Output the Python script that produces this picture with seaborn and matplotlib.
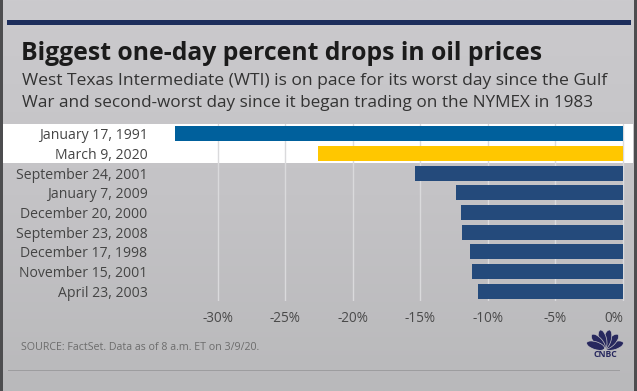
import matplotlib
matplotlib.use("Agg")
import matplotlib.pyplot as plt
import seaborn as sns
import pandas as pd
import numpy as np
from matplotlib.transforms import blended_transform_factory
from matplotlib.patches import Rectangle, Ellipse
from matplotlib.colors import LinearSegmentedColormap

# ---------------- data ----------------
dates = ["January 17, 1991", "March 9, 2020", "September 24, 2001",
         "January 7, 2009", "December 20, 2000", "September 23, 2008",
         "December 17, 1998", "November 15, 2001", "April 23, 2003"]
drops = [-33.2, -22.6, -15.4, -12.4, -12.0, -11.9, -11.3, -11.2, -10.7]
bar_colors = ["#00609c", "#ffc700"] + ["#244a7b"] * 7
xticks = [-30, -25, -20, -15, -10, -5, 0]
xtick_labels = ["-30%", "-25%", "-20%", "-15%", "-10%", "-5%", "0%"]

title = "Biggest one-day percent drops in oil prices"
subtitle = ("West Texas Intermediate (WTI) is on pace for its worst day since the Gulf\n"
            "War and second-worst day since it began trading on the NYMEX in 1983")
source = "SOURCE: FactSet. Data as of 8 a.m. ET on 3/9/20."

# ---------------- style ----------------
sns.set_theme(style="white")
plt.rcParams['font.family'] = ['Open Sans', 'DejaVu Sans']

W, H = 637, 391
fig = plt.figure(figsize=(W / 100, H / 100), dpi=100)

# background gradient
bgax = fig.add_axes([0, 0, 1, 1], zorder=-10)
grad = np.linspace(0, 1, 256).reshape(-1, 1)
cmap = LinearSegmentedColormap.from_list("bg", ["#cbcacd", "#c4c3c6", "#b9b9bb"])
bgax.imshow(grad, aspect="auto", cmap=cmap, extent=[0, 1, 0, 1], origin="upper")
bgax.set_axis_off()

def fx(px):
    return px / W

def fy(py):
    return 1 - py / H

# frame borders
fig.add_artist(Rectangle((0, 0), fx(2.5), 1, transform=fig.transFigure,
                         color="#4d4d4f", lw=0))
fig.add_artist(Rectangle((fx(634), 0), fx(3), 1, transform=fig.transFigure,
                         color="#4d4d4f", lw=0))
# navy top rule
fig.add_artist(Rectangle((fx(7), fy(25)), fx(624), 5 / H, transform=fig.transFigure,
                         color="#1d2e5c", lw=0))
# bottom rule
fig.add_artist(Rectangle((fx(8), fy(370.5)), fx(612), 1 / H, transform=fig.transFigure,
                         color="#9d9d9f", lw=0))

# ---------------- axes ----------------
ax = fig.add_axes([fx(153), fy(301), fx(625 - 153), (301 - 124) / H])
ax.set_facecolor("none")

df = pd.DataFrame({"date": dates, "drop": drops})
sns.barplot(data=df, x="drop", y="date", hue="date", palette=bar_colors,
            legend=False, width=0.75, saturation=1, linewidth=0, ax=ax, zorder=3)

# white highlight band behind the first two rows
trans = blended_transform_factory(fig.transFigure, ax.transData)
ax.add_patch(Rectangle((0, -0.5), fx(633), 2.0, transform=trans,
                       facecolor="white", edgecolor="none", clip_on=False, zorder=0.1))

ax.set_xlim(-34.8, 0.15)
ax.set_xticks(xticks)
ax.set_xticklabels(xtick_labels)
ax.xaxis.grid(True, color="#dadadc", lw=1)
ax.set_axisbelow(True)
for s in ax.spines.values():
    s.set_visible(False)
ax.set_xlabel("")
ax.set_ylabel("")
ax.tick_params(axis="y", length=0, pad=4, labelsize=10.1, labelcolor="#444444")
ax.tick_params(axis="x", length=0, pad=7, labelsize=9.8, labelcolor="#4a4a4a")
lbls = ax.get_xticklabels()
lbls[-1].set_horizontalalignment("right")

# ---------------- texts ----------------
fig.text(fx(21), fy(60), title, fontsize=17.8, fontweight="bold", color="#1b1b1b",
         va="baseline", ha="left")
fig.text(fx(22), fy(85), subtitle.split("\n")[0], fontsize=12.6, color="#333333",
         va="baseline", ha="left")
fig.text(fx(22), fy(107), subtitle.split("\n")[1], fontsize=12.3, color="#333333",
         va="baseline", ha="left")
fig.text(fx(21), fy(347), source, fontsize=7.7, color="#6c6c6c", va="center", ha="left")

# ---------------- logo ----------------
lax = fig.add_axes([fx(584), fy(358), fx(42), 30 / H])
lax.set_xlim(-1.4, 1.4)
lax.set_ylim(-0.5, 1.5)
lax.set_aspect("equal")
lax.set_axis_off()
for ang in [18, 47, 76, 104, 133, 162]:
    t = np.deg2rad(ang)
    lax.add_patch(Ellipse((0.66 * np.cos(t), 0.66 * np.sin(t) + 0.12), 1.25, 0.52,
                          angle=ang, facecolor="#27285e", edgecolor="#c3c2c5", lw=0.5))
lax.text(0, -0.28, "CNBC", ha="center", va="center", fontsize=6.2,
         fontweight="bold", color="#27285e")

fig.savefig("out.png", dpi=100, facecolor=fig.get_facecolor())
